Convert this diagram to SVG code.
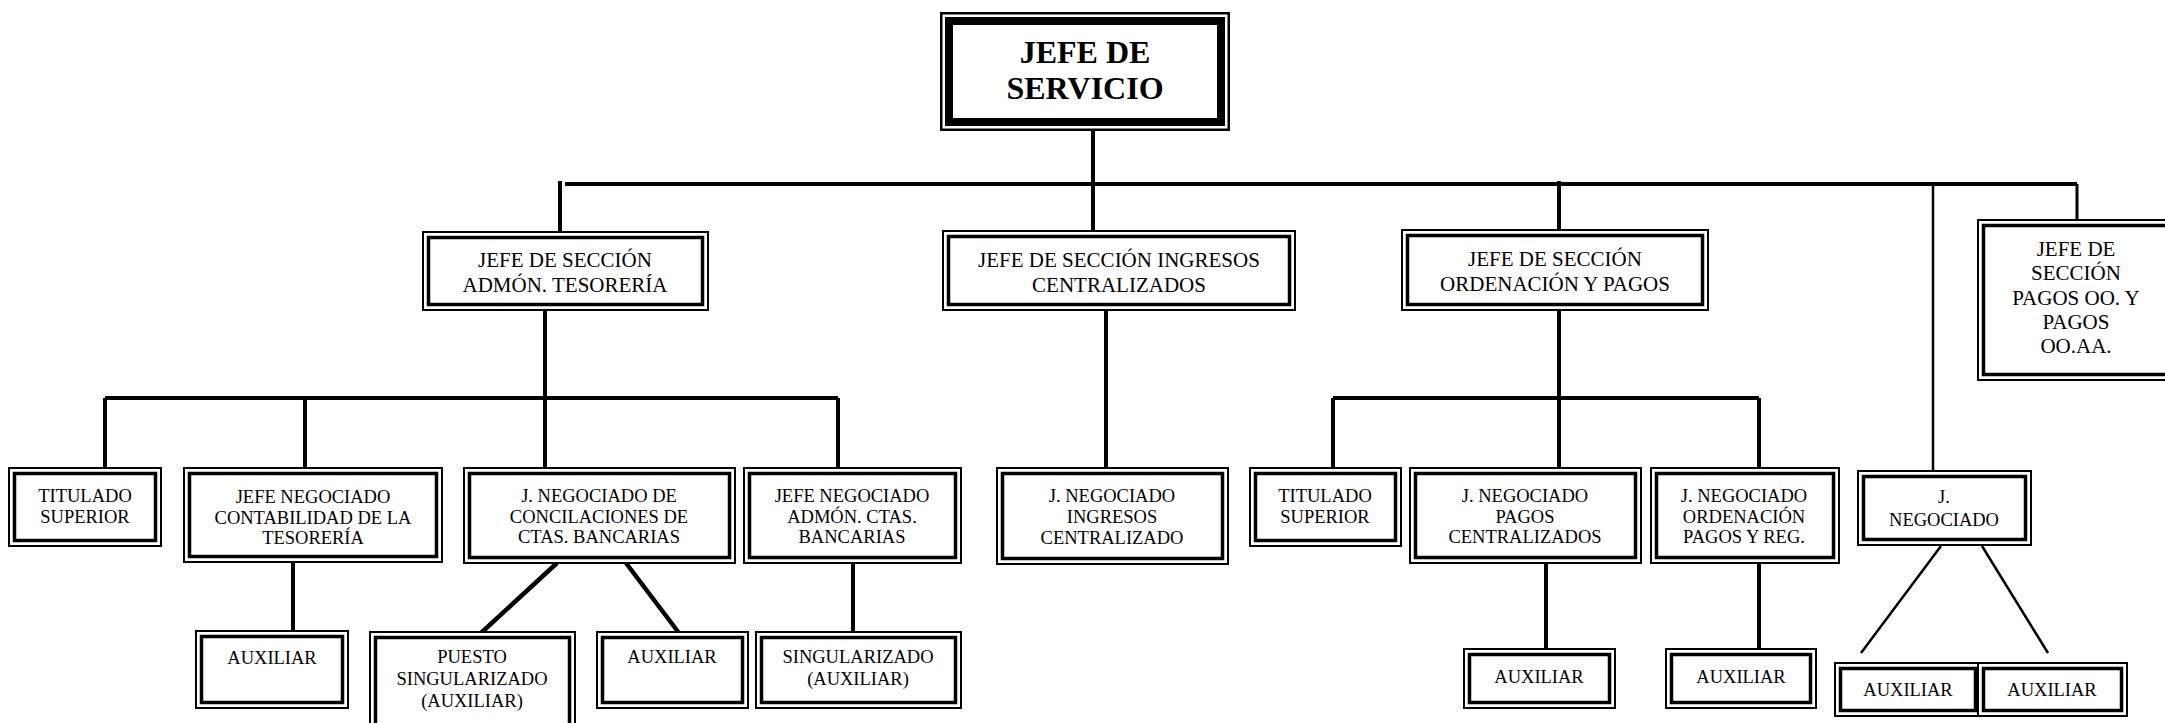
<svg xmlns="http://www.w3.org/2000/svg" width="2165" height="723" viewBox="0 0 2165 723">
<style>
  .bg { fill: #ffffff; }
  .o { fill: #ffffff; stroke: #000; stroke-width: 2; }
  .i { fill: none; stroke: #000; stroke-width: 3.5; }
  .to { fill: #ffffff; stroke: #000; stroke-width: 2.5; }
  .ti { fill: none; stroke: #000; stroke-width: 8; }
  text { font-family: "Liberation Serif", "Times New Roman", serif; fill: #000; text-anchor: middle; }
  .t18 { font-size: 18.5px; }
  .t21 { font-size: 21px; }
  .title { font-size: 32px; font-weight: bold; }
  .c { fill: none; stroke: #000; stroke-width: 4; stroke-linecap: butt; }
  .cd { fill: none; stroke: #000; stroke-width: 4.5; }
  .thin { fill: none; stroke: #000; stroke-width: 2.5; }
  .med { fill: none; stroke: #000; stroke-width: 3; }
</style>
<rect class="bg" x="0" y="0" width="2165" height="723"/>

<g id="connectors">
  <!-- top level -->
  <path class="c" d="M1093,131 V233"/>
  <path class="c" d="M565,184 H2077"/>
  <path class="med" d="M2077,184 V234"/>
  <path class="c" d="M560,181 V233"/>
  <path class="c" d="M1559,181 V233"/>
  <path class="thin" d="M1933,184 V472"/>
  <!-- tesoreria -->
  <path class="c" d="M545,311 V468"/>
  <path class="c" d="M105,398 H838"/>
  <path class="c" d="M105,398 V468"/>
  <path class="c" d="M305,398 V468"/>
  <path class="c" d="M838,398 V468"/>
  <path class="c" d="M293,563 V631"/>
  <path class="cd" d="M557,563 L481,633"/>
  <path class="cd" d="M626,563 L679,633"/>
  <path class="c" d="M853,564 V632"/>
  <!-- ingresos -->
  <path class="c" d="M1106,311 V469"/>
  <!-- ordenacion -->
  <path class="c" d="M1559,311 V469"/>
  <path class="c" d="M1333,398 H1759"/>
  <path class="c" d="M1333,398 V468"/>
  <path class="c" d="M1759,398 V468"/>
  <path class="c" d="M1546,564 V650"/>
  <path class="c" d="M1759,564 V650"/>
  <!-- right J. negociado -->
  <path class="thin" d="M1941,546 L1861,653"/>
  <path class="thin" d="M1982,546 L2048,653"/>
</g>

<g id="jefe-servicio" transform="translate(940,12)">
  <rect class="to" x="1.25" y="1.25" width="287.5" height="116.5"/>
  <rect class="ti" x="9" y="9" width="272" height="101"/>
  <text class="title" x="145" y="51">JEFE DE</text>
  <text class="title" x="145" y="87">SERVICIO</text>
</g>

<g id="sec-tesoreria" transform="translate(422,231)">
  <rect class="o" x="1" y="1" width="285" height="78"/>
  <rect class="i" x="6.5" y="6.5" width="274" height="67"/>
  <text class="t21" x="143" y="36">JEFE DE SECCIÓN</text>
  <text class="t21" x="143" y="61">ADMÓN. TESORERÍA</text>
</g>

<g id="sec-ingresos" transform="translate(942,230)">
  <rect class="o" x="1" y="1" width="352" height="79"/>
  <rect class="i" x="6.5" y="6.5" width="341" height="68"/>
  <text class="t21" x="177" y="37">JEFE DE SECCIÓN INGRESOS</text>
  <text class="t21" x="177" y="62">CENTRALIZADOS</text>
</g>

<g id="sec-ordenacion" transform="translate(1401,229)">
  <rect class="o" x="1" y="1" width="306" height="80"/>
  <rect class="i" x="6.5" y="6.5" width="295" height="69"/>
  <text class="t21" x="154" y="37">JEFE DE SECCIÓN</text>
  <text class="t21" x="154" y="62">ORDENACIÓN Y PAGOS</text>
</g>

<g id="sec-pagos-oo" transform="translate(1977,219)">
  <rect class="o" x="1" y="1" width="196" height="160"/>
  <rect class="i" x="6.5" y="6.5" width="185" height="149"/>
  <text class="t21" x="99" y="37">JEFE DE</text>
  <text class="t21" x="99" y="61">SECCIÓN</text>
  <text class="t21" x="99" y="86">PAGOS OO. Y</text>
  <text class="t21" x="99" y="110">PAGOS</text>
  <text class="t21" x="99" y="134">OO.AA.</text>
</g>

<g id="titulado-1" transform="translate(8,467)">
  <rect class="o" x="1" y="1" width="152" height="78"/>
  <rect class="i" x="6.5" y="6.5" width="141" height="67"/>
  <text class="t18" x="77" y="35">TITULADO</text>
  <text class="t18" x="77" y="56">SUPERIOR</text>
</g>

<g id="jn-contabilidad" transform="translate(183,467)">
  <rect class="o" x="1" y="1" width="258" height="94"/>
  <rect class="i" x="6.5" y="6.5" width="247" height="83"/>
  <text class="t18" x="130" y="36">JEFE NEGOCIADO</text>
  <text class="t18" x="130" y="57">CONTABILIDAD DE LA</text>
  <text class="t18" x="130" y="77">TESORERÍA</text>
</g>

<g id="jn-conciliaciones" transform="translate(463,467)">
  <rect class="o" x="1" y="1" width="271" height="95"/>
  <rect class="i" x="6.5" y="6.5" width="260" height="84"/>
  <text class="t18" x="136" y="35">J. NEGOCIADO DE</text>
  <text class="t18" x="136" y="56">CONCILACIONES DE</text>
  <text class="t18" x="136" y="76">CTAS. BANCARIAS</text>
</g>

<g id="jn-admon-ctas" transform="translate(743,467)">
  <rect class="o" x="1" y="1" width="217" height="95"/>
  <rect class="i" x="6.5" y="6.5" width="206" height="84"/>
  <text class="t18" x="109" y="35">JEFE NEGOCIADO</text>
  <text class="t18" x="109" y="56">ADMÓN. CTAS.</text>
  <text class="t18" x="109" y="76">BANCARIAS</text>
</g>

<g id="jn-ingresos" transform="translate(996,467)">
  <rect class="o" x="1" y="1" width="231" height="96"/>
  <rect class="i" x="6.5" y="6.5" width="220" height="85"/>
  <text class="t18" x="116" y="35">J. NEGOCIADO</text>
  <text class="t18" x="116" y="56">INGRESOS</text>
  <text class="t18" x="116" y="77">CENTRALIZADO</text>
</g>

<g id="titulado-2" transform="translate(1249,467)">
  <rect class="o" x="1" y="1" width="151" height="78"/>
  <rect class="i" x="6.5" y="6.5" width="140" height="67"/>
  <text class="t18" x="76" y="35">TITULADO</text>
  <text class="t18" x="76" y="56">SUPERIOR</text>
</g>

<g id="jn-pagos-centralizados" transform="translate(1409,467)">
  <rect class="o" x="1" y="1" width="231" height="95"/>
  <rect class="i" x="6.5" y="6.5" width="220" height="84"/>
  <text class="t18" x="116" y="35">J. NEGOCIADO</text>
  <text class="t18" x="116" y="56">PAGOS</text>
  <text class="t18" x="116" y="76">CENTRALIZADOS</text>
</g>

<g id="jn-ordenacion-pagos" transform="translate(1650,467)">
  <rect class="o" x="1" y="1" width="188" height="95"/>
  <rect class="i" x="6.5" y="6.5" width="177" height="84"/>
  <text class="t18" x="94" y="35">J. NEGOCIADO</text>
  <text class="t18" x="94" y="56">ORDENACIÓN</text>
  <text class="t18" x="94" y="76">PAGOS Y REG.</text>
</g>

<g id="jn-right" transform="translate(1857,470)">
  <rect class="o" x="1" y="1" width="173" height="74"/>
  <rect class="i" x="6.5" y="6.5" width="162" height="63"/>
  <text class="t18" x="87" y="33">J.</text>
  <text class="t18" x="87" y="56">NEGOCIADO</text>
</g>

<g id="aux-contabilidad" transform="translate(195,630)">
  <rect class="o" x="1" y="1" width="152" height="77"/>
  <rect class="i" x="6.5" y="6.5" width="141" height="66"/>
  <text class="t18" x="77" y="34">AUXILIAR</text>
</g>

<g id="puesto-singularizado" transform="translate(369,631)">
  <rect class="o" x="1" y="1" width="205" height="100"/>
  <rect class="i" x="6.5" y="6.5" width="194" height="89"/>
  <text class="t18" x="103" y="32">PUESTO</text>
  <text class="t18" x="103" y="54">SINGULARIZADO</text>
  <text class="t18" x="103" y="76">(AUXILIAR)</text>
</g>

<g id="aux-conciliaciones" transform="translate(596,631)">
  <rect class="o" x="1" y="1" width="151" height="76"/>
  <rect class="i" x="6.5" y="6.5" width="140" height="65"/>
  <text class="t18" x="76" y="32">AUXILIAR</text>
</g>

<g id="singularizado-auxiliar" transform="translate(755,631)">
  <rect class="o" x="1" y="1" width="205" height="76"/>
  <rect class="i" x="6.5" y="6.5" width="194" height="65"/>
  <text class="t18" x="103" y="32">SINGULARIZADO</text>
  <text class="t18" x="103" y="54">(AUXILIAR)</text>
</g>

<g id="aux-pagos" transform="translate(1463,648)">
  <rect class="o" x="1" y="1" width="151" height="59"/>
  <rect class="i" x="6.5" y="6.5" width="140" height="48"/>
  <text class="t18" x="76" y="35">AUXILIAR</text>
</g>

<g id="aux-ordenacion" transform="translate(1665,648)">
  <rect class="o" x="1" y="1" width="150" height="59"/>
  <rect class="i" x="6.5" y="6.5" width="139" height="48"/>
  <text class="t18" x="76" y="35">AUXILIAR</text>
</g>

<g id="aux-right-1" transform="translate(1834,662)">
  <rect class="o" x="1" y="1" width="146" height="53"/>
  <rect class="i" x="6.5" y="6.5" width="135" height="42"/>
  <text class="t18" x="74" y="34">AUXILIAR</text>
</g>

<g id="aux-right-2" transform="translate(1977,662)">
  <rect class="o" x="1" y="1" width="149" height="53"/>
  <rect class="i" x="6.5" y="6.5" width="138" height="42"/>
  <text class="t18" x="75" y="34">AUXILIAR</text>
</g>
</svg>
